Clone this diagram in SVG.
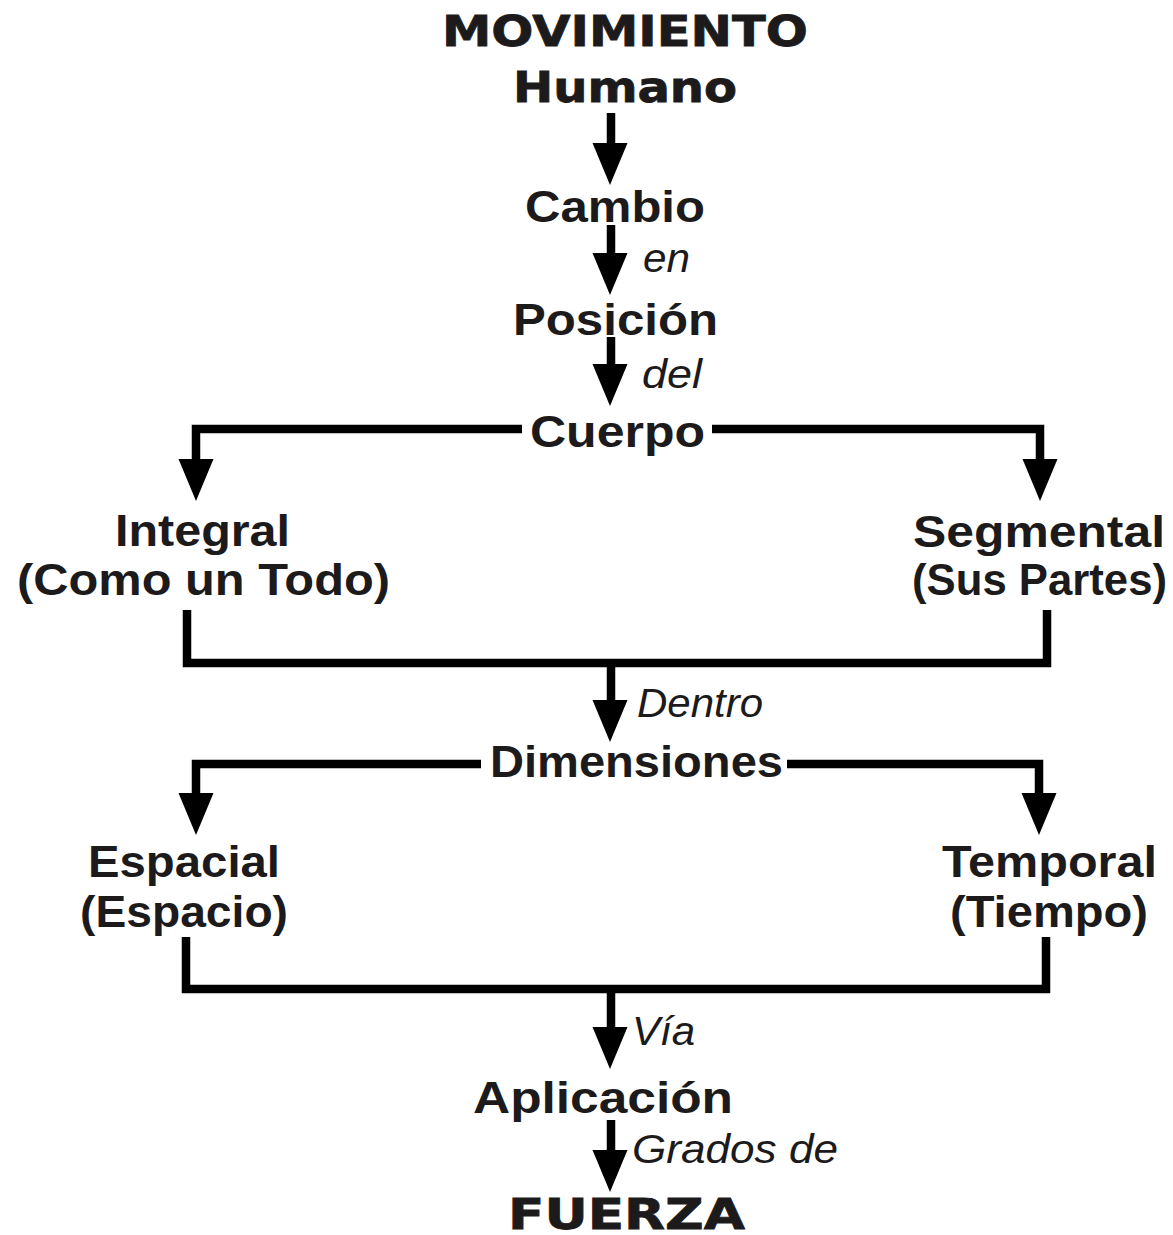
<svg xmlns="http://www.w3.org/2000/svg" xmlns:xlink="http://www.w3.org/1999/xlink" width="1173" height="1235" viewBox="0 0 1173 1235">
<style>
.bg{fill:#ffffff}
.n{font-family:"Liberation Sans",Arial,sans-serif;font-weight:bold;font-size:44px;fill:#1c1a1b}
.h{font-family:"DejaVu Sans","Liberation Sans",sans-serif;font-weight:bold;font-size:43px;fill:#1c1a1b;stroke:#1c1a1b;stroke-width:0.8}
.l{font-family:"Liberation Sans",Arial,sans-serif;font-style:italic;font-size:40px;fill:#1c1a1b}
.c{fill:none;stroke:#000;stroke-width:8.5;stroke-linejoin:miter;stroke-linecap:butt}
.ah{fill:#000}
</style>
<defs>
<path id="head" class="ah" d="M-17.5,0 L17.5,0 L0,42 Z"/>
</defs>
<rect class="bg" x="0" y="0" width="1173" height="1235"/>
<g id="connectors">
<path class="c" d="M611,113 V145"/>
<use xlink:href="#head" href="#head" x="610" y="143"/>
<path class="c" d="M611,225 V256"/>
<use xlink:href="#head" href="#head" x="610" y="253"/>
<path class="c" d="M611,337 V366"/>
<use xlink:href="#head" href="#head" x="610" y="364"/>
<path class="c" d="M522,429 H196 V462"/>
<use xlink:href="#head" href="#head" x="196" y="459"/>
<path class="c" d="M712,429 H1040 V462"/>
<use xlink:href="#head" href="#head" x="1040" y="459"/>
<path class="c" d="M187,610 V663 H1047 V610"/>
<path class="c" d="M611,667 V702"/>
<use xlink:href="#head" href="#head" x="610" y="700"/>
<path class="c" d="M481,764 H196 V796"/>
<use xlink:href="#head" href="#head" x="196" y="793"/>
<path class="c" d="M787,764 H1039 V796"/>
<use xlink:href="#head" href="#head" x="1039" y="793"/>
<path class="c" d="M186,937 V989 H1046 V937"/>
<path class="c" d="M611,993 V1030"/>
<use xlink:href="#head" href="#head" x="610" y="1027"/>
<path class="c" d="M611,1120 V1153"/>
<use xlink:href="#head" href="#head" x="610" y="1150"/>
</g>
<g id="movimiento"><text class="h" x="442" y="46" textLength="366" lengthAdjust="spacingAndGlyphs">MOVIMIENTO</text>
<text class="h" x="513" y="102" textLength="224" lengthAdjust="spacingAndGlyphs">Humano</text></g>
<g id="cambio"><text class="n" x="525" y="222" textLength="180" lengthAdjust="spacingAndGlyphs">Cambio</text></g>
<g id="label-en"><text class="l" x="643" y="272" textLength="47" lengthAdjust="spacingAndGlyphs">en</text></g>
<g id="posicion"><text class="n" x="513" y="335" textLength="205" lengthAdjust="spacingAndGlyphs">Posición</text></g>
<g id="label-del"><text class="l" x="642" y="388" textLength="60" lengthAdjust="spacingAndGlyphs">del</text></g>
<g id="cuerpo"><text class="n" x="530" y="447" textLength="175" lengthAdjust="spacingAndGlyphs">Cuerpo</text></g>
<g id="integral"><text class="n" x="115" y="546" textLength="175" lengthAdjust="spacingAndGlyphs">Integral</text>
<text class="n" x="17" y="595" textLength="373" lengthAdjust="spacingAndGlyphs">(Como un Todo)</text></g>
<g id="segmental"><text class="n" x="913" y="547" textLength="252" lengthAdjust="spacingAndGlyphs">Segmental</text>
<text class="n" x="912" y="595" textLength="255" lengthAdjust="spacingAndGlyphs">(Sus Partes)</text></g>
<g id="label-dentro"><text class="l" x="637" y="717" textLength="126" lengthAdjust="spacingAndGlyphs">Dentro</text></g>
<g id="dimensiones"><text class="n" x="490" y="777" textLength="293" lengthAdjust="spacingAndGlyphs">Dimensiones</text></g>
<g id="espacial"><text class="n" x="88" y="877" textLength="192" lengthAdjust="spacingAndGlyphs">Espacial</text>
<text class="n" x="80" y="927" textLength="208" lengthAdjust="spacingAndGlyphs">(Espacio)</text></g>
<g id="temporal"><text class="n" x="942" y="877" textLength="215" lengthAdjust="spacingAndGlyphs">Temporal</text>
<text class="n" x="950" y="927" textLength="198" lengthAdjust="spacingAndGlyphs">(Tiempo)</text></g>
<g id="label-via"><text class="l" x="632" y="1045" textLength="63" lengthAdjust="spacingAndGlyphs">Vía</text></g>
<g id="aplicacion"><text class="n" x="473" y="1113" textLength="260" lengthAdjust="spacingAndGlyphs">Aplicación</text></g>
<g id="label-grados"><text class="l" x="632" y="1163" textLength="206" lengthAdjust="spacingAndGlyphs">Grados de</text></g>
<g id="fuerza"><text class="h" x="508" y="1229" textLength="237" lengthAdjust="spacingAndGlyphs">FUERZA</text></g>
</svg>
